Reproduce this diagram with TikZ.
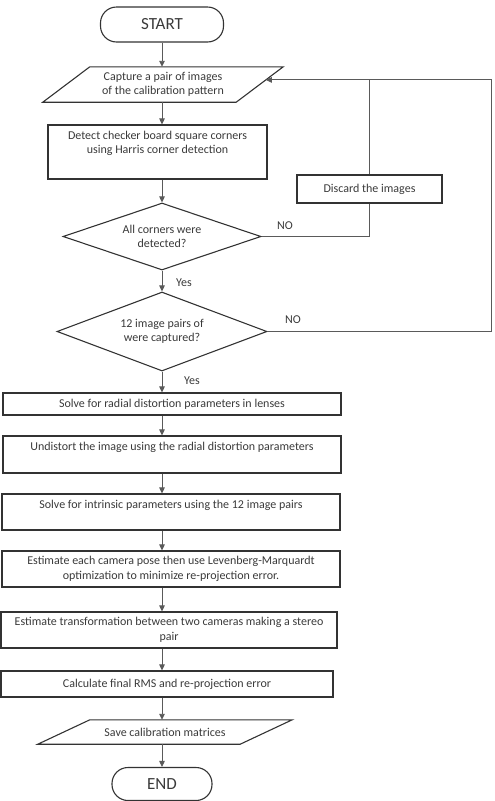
\documentclass[tikz,border=0pt]{standalone}
\usepackage{fontspec}
\setmainfont{Carlito}
\usetikzlibrary{shapes.geometric,arrows.meta,calc}
\definecolor{txt}{HTML}{3A3A3A}
\definecolor{bdr}{HTML}{333333}
\definecolor{lnc}{HTML}{5A5A5A}
\begin{document}
\begin{tikzpicture}[x=1pt,y=-1pt,
  every node/.style={font=\fontsize{12}{14.5}\selectfont, text=txt},
  box/.style={draw=bdr, line width=1.1pt, rectangle, inner sep=0pt, align=center},
  term/.style={draw=bdr, line width=1.1pt, rectangle, rounded corners=16pt, inner sep=0pt, font=\fontsize{17}{20}\selectfont},
  dia/.style={draw=bdr, line width=1.1pt, diamond, aspect=2.9, inner sep=0pt, align=center},
  para/.style={inner sep=0pt, align=center},
  paraline/.style={draw=bdr, line width=1.1pt, line join=miter},
  toplab/.style={anchor=north, inner sep=0pt, align=center, yshift=-6.5pt},
  lab/.style={inner sep=0pt},
  ln/.style={draw=lnc, line width=0.9pt},
  arr/.style={ln, -{Triangle[length=6pt,width=5.5pt]}}
]
\useasboundingbox (0,0) rectangle (495,801);

% terminals
\node[term, minimum width=123pt, minimum height=35pt] (start) at (162,24.5) {START};
\node[term, minimum width=100pt, minimum height=33pt] (end) at (162,784) {END};

% capture parallelogram
\node[para, minimum width=193pt, minimum height=35pt] (cap) at (163,84.5) {Capture a pair of images\\of the calibration pattern};
\coordinate (capTL) at ([xshift=23.5pt]cap.north west);
\coordinate (capTR) at ([xshift=23.5pt]cap.north east);
\coordinate (capBR) at ([xshift=-23.5pt]cap.south east);
\coordinate (capBL) at ([xshift=-23.5pt]cap.south west);
\draw[paraline] (capTL) -- (capTR) -- (capBR) -- (capBL) -- cycle;
\coordinate (capin) at ($(capTR)!0.37!(capBR)$);

% boxes
\node[box, minimum width=219pt, minimum height=54pt,
  label={[toplab]north:Detect checker board square corners\\using Harris corner detection}] (detect) at (157.5,152) {};
\node[box, minimum width=145pt, minimum height=28pt] (discard) at (369.5,189) {Discard the images};

\node[dia, minimum width=198pt, minimum height=67pt] (d1) at (162,236.5) {All corners were\\detected?};
\node[dia, minimum width=210pt, minimum height=79pt] (d2) at (162,331.5) {12 image pairs of\\were captured?};

\node[box, minimum width=338pt, minimum height=22pt] (radial) at (172,404) {Solve for radial distortion parameters in lenses};
\node[box, minimum width=338pt, minimum height=37pt,
  label={[toplab]north:Undistort the image using the radial distortion parameters}] (undist) at (172,454.5) {};
\node[box, minimum width=338pt, minimum height=36pt,
  label={[toplab]north:Solve for intrinsic parameters using the 12 image pairs}] (intr) at (171,512) {};
\node[box, minimum width=338pt, minimum height=36pt] (pose) at (171,569) {Estimate each camera pose then use Levenberg-Marquardt\\optimization to minimize re-projection error.};
\node[box, minimum width=336pt, minimum height=36pt] (trans) at (169,630) {Estimate transformation between two cameras making a stereo\\pair};
\node[box, minimum width=332pt, minimum height=26pt] (calc) at (167,684) {Calculate final RMS and re-projection error};

% save parallelogram
\node[para, minimum width=202pt, minimum height=24pt] (save) at (165,732) {Save calibration matrices};
\draw[paraline] ([xshift=26pt]save.north west) -- ([xshift=26pt]save.north east) -- ([xshift=-26pt]save.south east) -- ([xshift=-26pt]save.south west) -- cycle;

% labels
\node[lab] (no1) at (285,226) {NO};
\node[lab] (no2) at (293,320) {NO};
\node[lab] (yes1) at (184,283) {Yes};
\node[lab] (yes2) at (192,381) {Yes};

% main flow
\draw[arr] (start.south) -- (cap.north -| start.south);
\draw[arr] (cap.south -| d1.north) -- (detect.north -| d1.north);
\draw[arr] (detect.south -| d1.north) -- (d1.north);
\draw[arr] (d1.south) -- (d2.north);
\draw[arr] (d2.south) -- (radial.north -| d2.south);
\draw[arr] (radial.south -| d2.south) -- (undist.north -| d2.south);
\draw[arr] (undist.south -| d2.south) -- (intr.north -| d2.south);
\draw[arr] (intr.south -| d2.south) -- (pose.north -| d2.south);
\draw[arr] (pose.south -| d2.south) -- (trans.north -| d2.south);
\draw[arr] (trans.south -| d2.south) -- (calc.north -| d2.south);
\draw[arr] (calc.south -| d2.south) -- (save.north -| d2.south);
\draw[arr] (save.south -| d2.south) -- (end.north);

% loops
\coordinate (rx) at (491,0);
\draw[ln] (d1.east) -| (discard.south);
\draw[ln] (discard.north) -- (discard.north |- capin);
\draw[arr] (d2.east) -| (rx |- capin) -- (capin);
\end{tikzpicture}
\end{document}
